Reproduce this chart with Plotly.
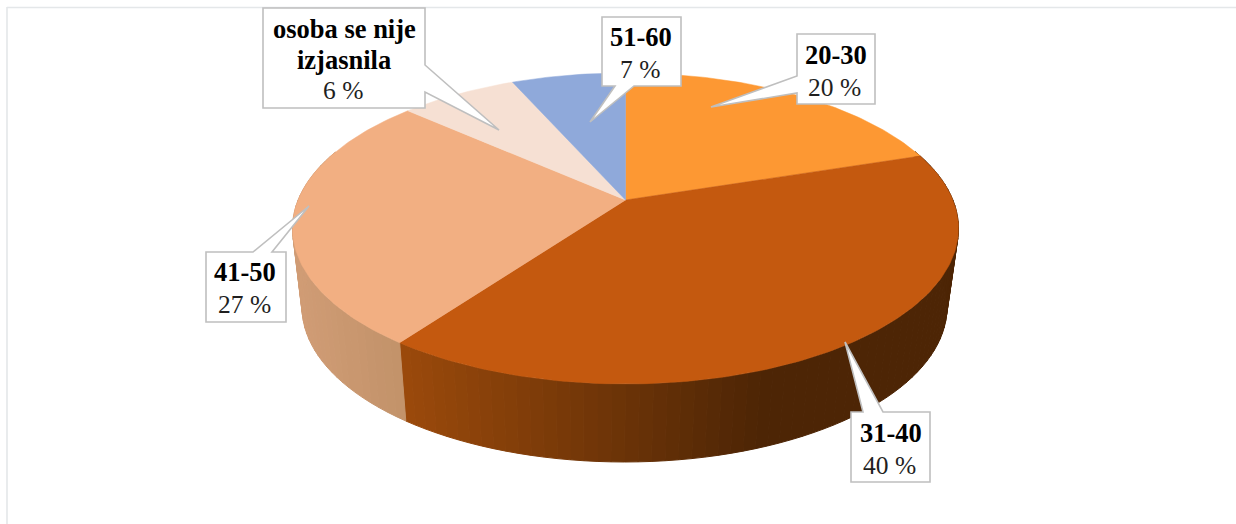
import math
import plotly.graph_objects as go

# --- data ---
categories = ["20-30", "31-40", "41-50", "osoba se nije izjasnila", "51-60"]
values = [20, 40, 26.6, 6.8, 6.6]
percent_labels = ["20 %", "40 %", "27 %", "6 %", "7 %"]

# --- style ---
top_colors = ["#FD9833", "#C4590F", "#F2AF82", "#F6E0D3", "#8FA9DA"]
side_left = [(150, 76, 25), (156, 74, 11), (208, 156, 117), (200, 180, 165), (110, 130, 170)]
side_right = [(77, 37, 5), (77, 37, 5), (194, 146, 105), (200, 180, 165), (110, 130, 170)]
W, H = 1236, 524
K = -0.183
TOP = dict(cx=625.5, a=327.4, b=150.3, y0=200.0)
BOT = dict(cx=624.5, a=317.0, b=149.5, y0=279.0)


def project(deg, disc):
    t = math.radians(deg)
    u, v = math.sin(t), -math.cos(t)
    w = 1 + K * v
    return disc["cx"] + disc["a"] * u / w, disc["y0"] + disc["b"] * v / w


def mix(c1, c2, f):
    f = max(0.0, min(1.0, f))
    return "rgb(%d,%d,%d)" % tuple(round(a + (b - a) * f) for a, b in zip(c1, c2))


fig = go.Figure()
total = sum(values)
edges = [0.0]
for val in values:
    edges.append(edges[-1] + 360.0 * val / total)

# side walls
STEP = 2.0
for i, val in enumerate(values):
    a0, a1 = edges[i], edges[i + 1]
    n = max(1, int(round((a1 - a0) / STEP)))
    for j in range(n):
        d0 = a0 + (a1 - a0) * j / n
        d1 = a0 + (a1 - a0) * (j + 1) / n
        mid = (d0 + d1) / 2
        if -math.cos(math.radians(mid)) < -0.35:
            continue
        p = [project(d0, TOP), project(d1, TOP), project(d1, BOT), project(d0, BOT), project(d0, TOP)]
        xm = sum(q[0] for q in p[:4]) / 4
        if i == 2:
            f = (xm - 300) / 105
        else:
            f = (xm - 400) / 360
        col = mix(side_left[i], side_right[i], f)
        fig.add_trace(go.Scatter(x=[q[0] for q in p], y=[q[1] for q in p], mode="lines", fill="toself",
                                 fillcolor=col, line=dict(color=col, width=1), hoverinfo="skip", showlegend=False))

# top wedges
for i, val in enumerate(values):
    a0, a1 = edges[i], edges[i + 1]
    n = max(2, int(a1 - a0))
    pts = [(TOP["cx"], TOP["y0"])] + [project(a0 + (a1 - a0) * j / n, TOP) for j in range(n + 1)] + [(TOP["cx"], TOP["y0"])]
    fig.add_trace(go.Scatter(x=[q[0] for q in pts], y=[q[1] for q in pts], mode="lines", fill="toself",
                             fillcolor=top_colors[i], line=dict(color=top_colors[i], width=0.5),
                             name=categories[i], hoverinfo="skip", showlegend=False))

# label callouts: outline polygons, text lines (x, y of each line)
callouts = [
    [(797, 34), (875, 34), (875, 104), (797, 104), (797, 93), (711, 107), (797, 76)],
    [(851, 412), (863, 412), (845, 342), (883, 412), (930, 412), (930, 482), (851, 482)],
    [(206, 252), (253, 252), (309, 206), (272, 252), (286, 252), (286, 322), (206, 322)],
    [(263, 8), (425, 8), (425, 65), (499, 130), (425, 92), (425, 108), (263, 108)],
    [(602, 17), (681, 17), (681, 86), (634, 86), (590, 122), (615, 86), (602, 86)],
]
shapes = [
    dict(type="line", xref="x", yref="y", x0=7, x1=W, y0=7.5, y1=7.5, line=dict(color="#E4E7E9", width=1.6), layer="below"),
    dict(type="line", xref="x", yref="y", x0=7, x1=7, y0=7, y1=H, line=dict(color="#E4E7E9", width=1.6), layer="below"),
]
for poly in callouts:
    path = "M " + " L ".join(f"{x},{y}" for x, y in poly) + " Z"
    shapes.append(dict(type="path", xref="x", yref="y", path=path, fillcolor="#FFFFFF",
                       line=dict(color="#BFBFBF", width=1.6), layer="above"))

text_lines = [
    ("<b>20-30</b>", 836, 55), (percent_labels[0], 834, 87),
    ("<b>31-40</b>", 891, 433), (percent_labels[1], 889.5, 465),
    ("<b>41-50</b>", 245, 272), (percent_labels[2], 244.5, 304),
    ("<b>osoba se nije</b>", 344, 29), ("<b>izjasnila</b>", 344, 60), (percent_labels[3], 343, 90),
    ("<b>51-60</b>", 641, 37), (percent_labels[4], 639.5, 69),
]
annotations = [
    dict(text=t, x=x, y=y, xref="x", yref="y", showarrow=False, xanchor="center", yanchor="middle",
         font=dict(family="Liberation Serif", size=26.5 if t.startswith("<b>") else 25.5,
                   color="#000000" if t.startswith("<b>") else "#1F1F1F"))
    for t, x, y in text_lines
]

fig.update_layout(
    width=W, height=H, autosize=False, margin=dict(l=0, r=0, t=0, b=0),
    paper_bgcolor="#FFFFFF", plot_bgcolor="#FFFFFF", showlegend=False,
    xaxis=dict(range=[0, W], visible=False, fixedrange=True),
    yaxis=dict(range=[H, 0], visible=False, fixedrange=True),
    shapes=shapes, annotations=annotations,
)
fig.write_html("out.html", post_script="document.body.style.margin='0';", config={"displayModeBar": False})
